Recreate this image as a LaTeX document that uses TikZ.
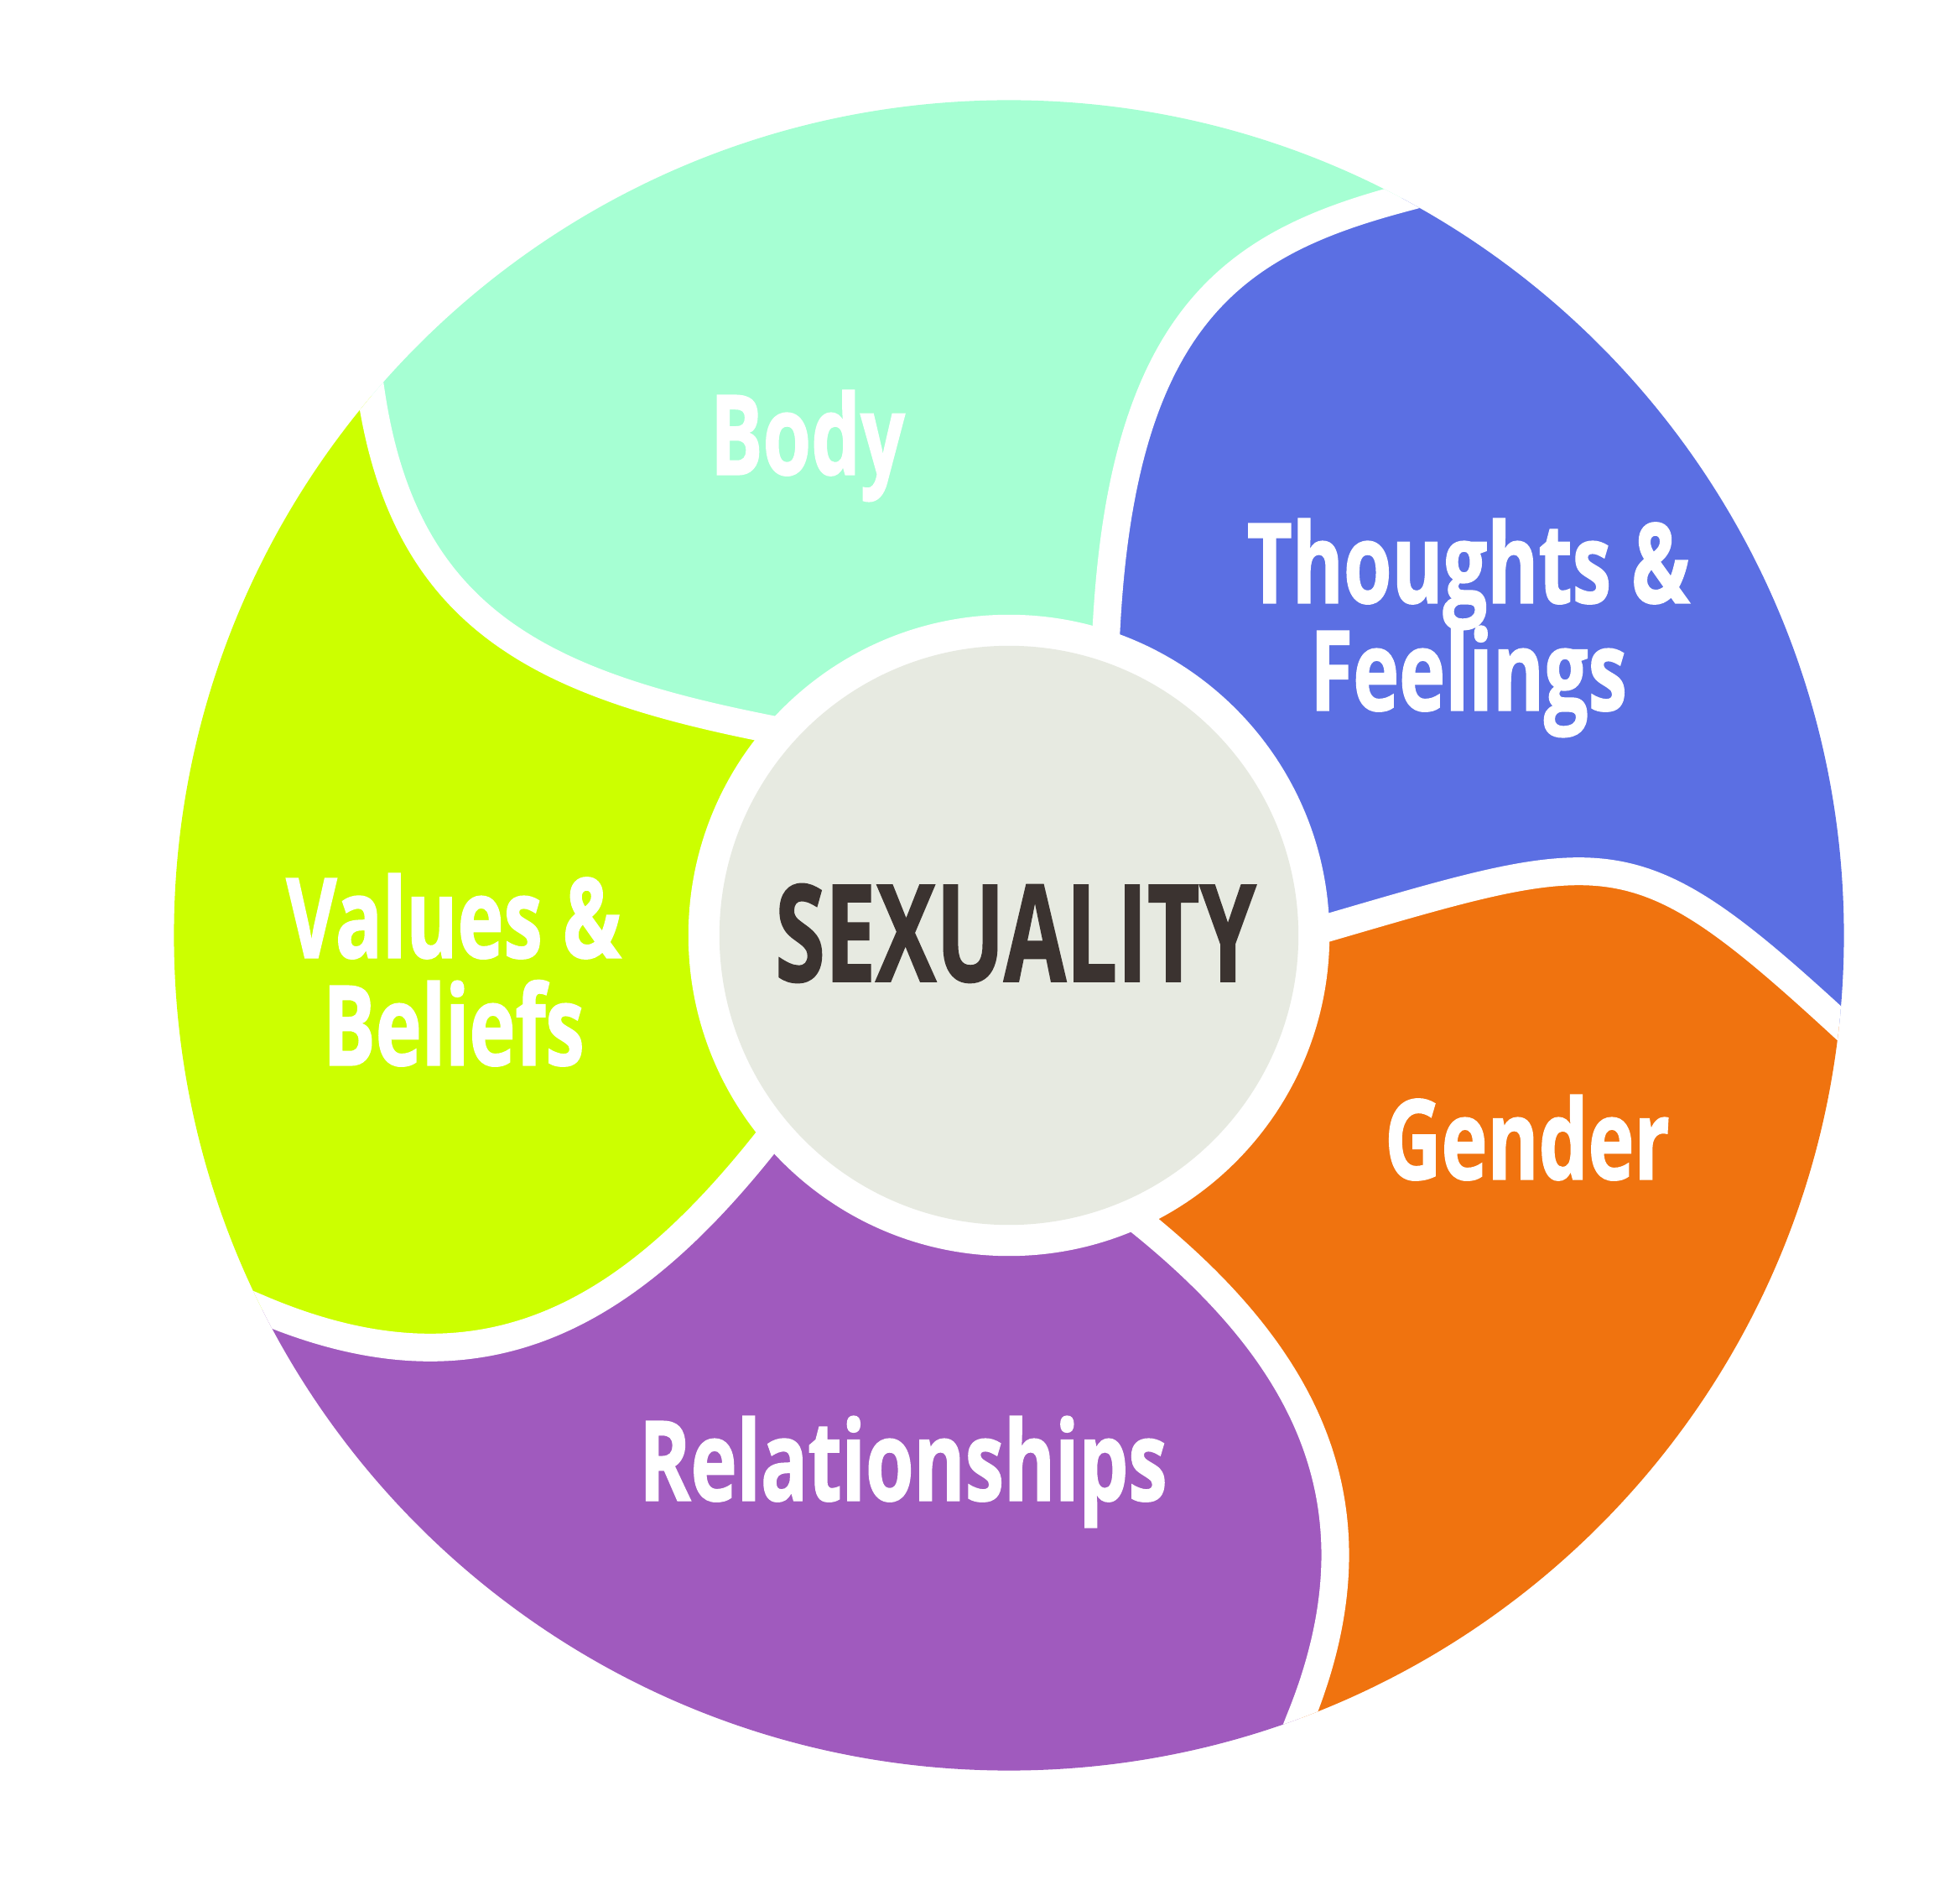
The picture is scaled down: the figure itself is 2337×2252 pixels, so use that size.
\documentclass[tikz,border=0pt]{standalone}
\usepackage{fontspec}
\newfontfamily\labelfont[FakeStretch=0.70, FakeBold=1]{Open Sans}
\newfontfamily\corefont[FakeStretch=0.67, FakeBold=1]{Open Sans}
\newcommand{\segsize}{\labelfont\bfseries\fontsize{37.8}{36.4}\selectfont\lineskiplimit=-50pt}
\newcommand{\coresize}{\corefont\bfseries\fontsize{45.8}{46}\selectfont}
\definecolor{bodycol}{RGB}{166,255,211}
\definecolor{thoughtcol}{RGB}{91,111,227}
\definecolor{gendercol}{RGB}{240,115,15}
\definecolor{relcol}{RGB}{160,90,190}
\definecolor{valuecol}{RGB}{204,255,0}
\definecolor{corecol}{RGB}{231,234,225}
\definecolor{inkcol}{RGB}{59,51,48}
\tikzset{
  seg label/.style={text=white, font=\segsize, align=center},
  core label/.style={text=inkcol, font=\coresize},
  gap line/.style={white, line width=3.3mm}
}

\begin{document}
\begin{tikzpicture}[x=0.01cm, y=0.01cm]
  \useasboundingbox (-1203,-1137) rectangle (1134,1115);
  \begin{scope}
    \clip (0,0) circle[radius=9.95cm];
    \fill[bodycol] (0,0) -- (-193,227) -- (-291,247) .. controls (-556,300) and (-719,376) .. (-760,643) -- (-775,742)
      -- (136.25:1500) -- (97:1500) -- (58:1500)
      -- (564,904) -- (467,878) .. controls (274,826) and (135,743) .. (116,363) -- (110,263) -- cycle;
    \fill[thoughtcol] (0,0) -- (110,263) -- (116,363) .. controls (135,743) and (274,826) .. (467,878) -- (564,904)
      -- (58:1500) -- (25:1500) -- (-9.1:1500)
      -- (1062,-171) -- (988,-103) .. controls (745,120) and (716,107) .. (380,9) -- (284,-19) -- cycle;
    \fill[gendercol] (0,0) -- (284,-19) -- (380,9) .. controls (716,107) and (745,120) .. (988,-103) -- (1062,-171)
      -- (-9.1:1500) -- (-41:1500) -- (-73.1:1500)
      -- (311,-1025) -- (348,-932) .. controls (449,-681) and (355,-503) .. (161,-345) -- (83,-282) -- cycle;
    \fill[relcol] (0,0) -- (83,-282) -- (161,-345) .. controls (355,-503) and (449,-681) .. (348,-932) -- (311,-1025)
      -- (-73.1:1500) -- (-115:1500) -- (-157.5:1500)
      -- (-983,-407) -- (-891,-446) .. controls (-633,-555) and (-459,-459) .. (-291,-248) -- (-229,-170) -- cycle;
    \fill[valuecol] (0,0) -- (-229,-170) -- (-291,-248) .. controls (-459,-459) and (-633,-555) .. (-891,-446) -- (-983,-407)
      -- (202.5:1500) -- (170:1500) -- (136.25:1500)
      -- (-775,742) -- (-760,643) .. controls (-719,376) and (-556,300) .. (-291,247) -- (-193,227) -- cycle;
    \draw[gap line] (110,263) -- (116,363) .. controls (135,743) and (274,826) .. (467,878) -- (564,904);
    \draw[gap line] (284,-19) -- (380,9) .. controls (716,107) and (745,120) .. (988,-103) -- (1062,-171);
    \draw[gap line] (83,-282) -- (161,-345) .. controls (355,-503) and (449,-681) .. (348,-932) -- (311,-1025);
    \draw[gap line] (-229,-170) -- (-291,-248) .. controls (-459,-459) and (-633,-555) .. (-891,-446) -- (-983,-407);
    \draw[gap line] (-193,227) -- (-291,247) .. controls (-556,300) and (-719,376) .. (-760,643) -- (-775,742);
  \end{scope}
  \fill[white] (0,0) circle[radius=3.82cm];
  \fill[corecol] (0,0) circle[radius=3.45cm];
  \draw (8,-55) node[core label, anchor=base] (core) {SEXUALITY};
  \draw (-240,549) node[seg label, anchor=base] (body) {Body};
  \draw (548,268) node[seg label, anchor=base] (thoughts) {Thoughts \&\\Feelings};
  \draw (618,-291) node[seg label, anchor=base] (gender) {Gender};
  \draw (-126,-674) node[seg label, anchor=base] (relations) {Relationships};
  \draw (-662,-155) node[seg label, anchor=base] (values) {Values \&\\Beliefs};
\end{tikzpicture}
\end{document}
